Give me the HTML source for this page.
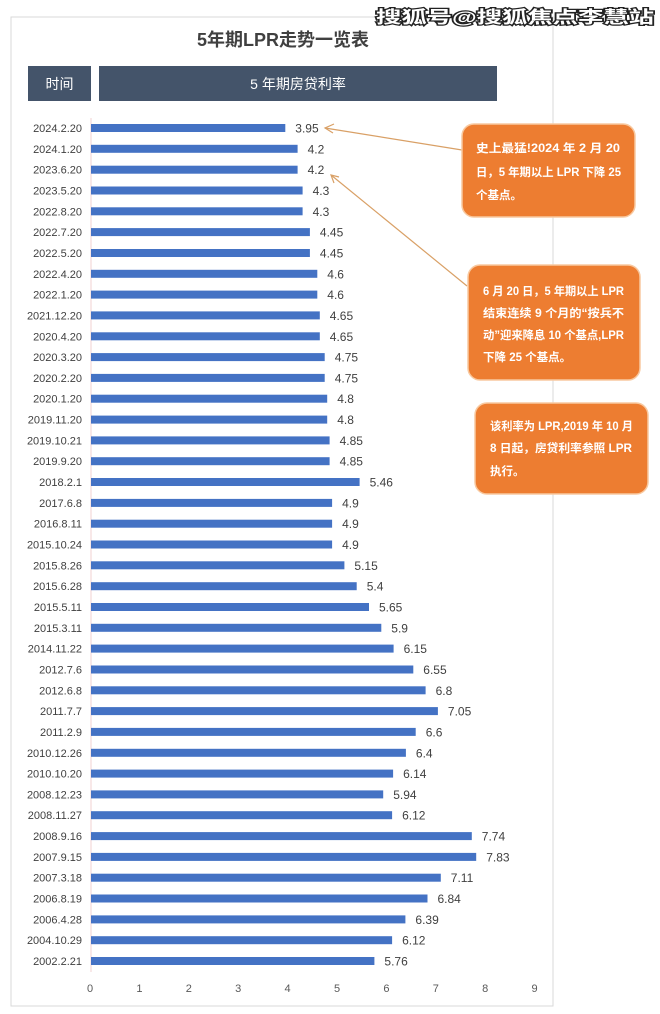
<!DOCTYPE html>
<html><head><meta charset="utf-8"><style>
html,body{margin:0;padding:0;background:#fff;}
svg{display:block;}
text{font-family:"Liberation Sans","Noto Sans CJK SC",sans-serif;}
.l{font-size:11px;fill:#404040;text-anchor:end;}
.v{font-size:12px;fill:#404040;}
.b{fill:#4472c4;}
.c{font-size:11.5px;fill:#fff;font-weight:bold;}
</style></head><body>
<svg width="660" height="1014" viewBox="0 0 660 1014" xmlns="http://www.w3.org/2000/svg">
<rect x="11" y="17" width="542" height="989" fill="#fff" stroke="#d9d9d9" stroke-width="1"/>
<text x="376" y="23" font-size="17" font-weight="bold" fill="#fff" stroke="#222" stroke-width="2.5" paint-order="stroke" textLength="278" lengthAdjust="spacingAndGlyphs">搜狐号@搜狐焦点李慧站</text>
<text x="283" y="46" text-anchor="middle" font-size="18" font-weight="bold" fill="#404040">5年期LPR走势一览表</text>
<rect x="28" y="66" width="63" height="35" fill="#44546a"/>
<text x="59.5" y="89" text-anchor="middle" font-size="14" fill="#fff">时间</text>
<rect x="99" y="66" width="398" height="35" fill="#44546a"/>
<text x="298" y="89" text-anchor="middle" font-size="14" fill="#fff">5 年期房贷利率</text>
<line x1="91" y1="118" x2="91" y2="972" stroke="#f0d0d0" stroke-width="1"/>
<g transform="translate(0,128)"><text class="l" x="82" y="4">2024.2.20</text><rect class="b" x="91" y="-4" width="194.3" height="8"/><text class="v" x="295.3" y="4.5">3.95</text></g>
<g transform="translate(0,148.8)"><text class="l" x="82" y="4">2024.1.20</text><rect class="b" x="91" y="-4" width="206.6" height="8"/><text class="v" x="307.6" y="4.5">4.2</text></g>
<g transform="translate(0,169.7)"><text class="l" x="82" y="4">2023.6.20</text><rect class="b" x="91" y="-4" width="206.6" height="8"/><text class="v" x="307.6" y="4.5">4.2</text></g>
<g transform="translate(0,190.5)"><text class="l" x="82" y="4">2023.5.20</text><rect class="b" x="91" y="-4" width="211.6" height="8"/><text class="v" x="312.6" y="4.5">4.3</text></g>
<g transform="translate(0,211.3)"><text class="l" x="82" y="4">2022.8.20</text><rect class="b" x="91" y="-4" width="211.6" height="8"/><text class="v" x="312.6" y="4.5">4.3</text></g>
<g transform="translate(0,232.1)"><text class="l" x="82" y="4">2022.7.20</text><rect class="b" x="91" y="-4" width="218.9" height="8"/><text class="v" x="319.9" y="4.5">4.45</text></g>
<g transform="translate(0,253)"><text class="l" x="82" y="4">2022.5.20</text><rect class="b" x="91" y="-4" width="218.9" height="8"/><text class="v" x="319.9" y="4.5">4.45</text></g>
<g transform="translate(0,273.8)"><text class="l" x="82" y="4">2022.4.20</text><rect class="b" x="91" y="-4" width="226.3" height="8"/><text class="v" x="327.3" y="4.5">4.6</text></g>
<g transform="translate(0,294.6)"><text class="l" x="82" y="4">2022.1.20</text><rect class="b" x="91" y="-4" width="226.3" height="8"/><text class="v" x="327.3" y="4.5">4.6</text></g>
<g transform="translate(0,315.4)"><text class="l" x="82" y="4">2021.12.20</text><rect class="b" x="91" y="-4" width="228.8" height="8"/><text class="v" x="329.8" y="4.5">4.65</text></g>
<g transform="translate(0,336.3)"><text class="l" x="82" y="4">2020.4.20</text><rect class="b" x="91" y="-4" width="228.8" height="8"/><text class="v" x="329.8" y="4.5">4.65</text></g>
<g transform="translate(0,357.1)"><text class="l" x="82" y="4">2020.3.20</text><rect class="b" x="91" y="-4" width="233.7" height="8"/><text class="v" x="334.7" y="4.5">4.75</text></g>
<g transform="translate(0,377.9)"><text class="l" x="82" y="4">2020.2.20</text><rect class="b" x="91" y="-4" width="233.7" height="8"/><text class="v" x="334.7" y="4.5">4.75</text></g>
<g transform="translate(0,398.7)"><text class="l" x="82" y="4">2020.1.20</text><rect class="b" x="91" y="-4" width="236.2" height="8"/><text class="v" x="337.2" y="4.5">4.8</text></g>
<g transform="translate(0,419.6)"><text class="l" x="82" y="4">2019.11.20</text><rect class="b" x="91" y="-4" width="236.2" height="8"/><text class="v" x="337.2" y="4.5">4.8</text></g>
<g transform="translate(0,440.4)"><text class="l" x="82" y="4">2019.10.21</text><rect class="b" x="91" y="-4" width="238.6" height="8"/><text class="v" x="339.6" y="4.5">4.85</text></g>
<g transform="translate(0,461.2)"><text class="l" x="82" y="4">2019.9.20</text><rect class="b" x="91" y="-4" width="238.6" height="8"/><text class="v" x="339.6" y="4.5">4.85</text></g>
<g transform="translate(0,482)"><text class="l" x="82" y="4">2018.2.1</text><rect class="b" x="91" y="-4" width="268.6" height="8"/><text class="v" x="369.6" y="4.5">5.46</text></g>
<g transform="translate(0,502.9)"><text class="l" x="82" y="4">2017.6.8</text><rect class="b" x="91" y="-4" width="241.1" height="8"/><text class="v" x="342.1" y="4.5">4.9</text></g>
<g transform="translate(0,523.7)"><text class="l" x="82" y="4">2016.8.11</text><rect class="b" x="91" y="-4" width="241.1" height="8"/><text class="v" x="342.1" y="4.5">4.9</text></g>
<g transform="translate(0,544.5)"><text class="l" x="82" y="4">2015.10.24</text><rect class="b" x="91" y="-4" width="241.1" height="8"/><text class="v" x="342.1" y="4.5">4.9</text></g>
<g transform="translate(0,565.3)"><text class="l" x="82" y="4">2015.8.26</text><rect class="b" x="91" y="-4" width="253.4" height="8"/><text class="v" x="354.4" y="4.5">5.15</text></g>
<g transform="translate(0,586.2)"><text class="l" x="82" y="4">2015.6.28</text><rect class="b" x="91" y="-4" width="265.7" height="8"/><text class="v" x="366.7" y="4.5">5.4</text></g>
<g transform="translate(0,607)"><text class="l" x="82" y="4">2015.5.11</text><rect class="b" x="91" y="-4" width="278" height="8"/><text class="v" x="379" y="4.5">5.65</text></g>
<g transform="translate(0,627.8)"><text class="l" x="82" y="4">2015.3.11</text><rect class="b" x="91" y="-4" width="290.3" height="8"/><text class="v" x="391.3" y="4.5">5.9</text></g>
<g transform="translate(0,648.6)"><text class="l" x="82" y="4">2014.11.22</text><rect class="b" x="91" y="-4" width="302.6" height="8"/><text class="v" x="403.6" y="4.5">6.15</text></g>
<g transform="translate(0,669.5)"><text class="l" x="82" y="4">2012.7.6</text><rect class="b" x="91" y="-4" width="322.3" height="8"/><text class="v" x="423.3" y="4.5">6.55</text></g>
<g transform="translate(0,690.3)"><text class="l" x="82" y="4">2012.6.8</text><rect class="b" x="91" y="-4" width="334.6" height="8"/><text class="v" x="435.6" y="4.5">6.8</text></g>
<g transform="translate(0,711.1)"><text class="l" x="82" y="4">2011.7.7</text><rect class="b" x="91" y="-4" width="346.9" height="8"/><text class="v" x="447.9" y="4.5">7.05</text></g>
<g transform="translate(0,731.9)"><text class="l" x="82" y="4">2011.2.9</text><rect class="b" x="91" y="-4" width="324.7" height="8"/><text class="v" x="425.7" y="4.5">6.6</text></g>
<g transform="translate(0,752.8)"><text class="l" x="82" y="4">2010.12.26</text><rect class="b" x="91" y="-4" width="314.9" height="8"/><text class="v" x="415.9" y="4.5">6.4</text></g>
<g transform="translate(0,773.6)"><text class="l" x="82" y="4">2010.10.20</text><rect class="b" x="91" y="-4" width="302.1" height="8"/><text class="v" x="403.1" y="4.5">6.14</text></g>
<g transform="translate(0,794.4)"><text class="l" x="82" y="4">2008.12.23</text><rect class="b" x="91" y="-4" width="292.2" height="8"/><text class="v" x="393.2" y="4.5">5.94</text></g>
<g transform="translate(0,815.2)"><text class="l" x="82" y="4">2008.11.27</text><rect class="b" x="91" y="-4" width="301.1" height="8"/><text class="v" x="402.1" y="4.5">6.12</text></g>
<g transform="translate(0,836.1)"><text class="l" x="82" y="4">2008.9.16</text><rect class="b" x="91" y="-4" width="380.8" height="8"/><text class="v" x="481.8" y="4.5">7.74</text></g>
<g transform="translate(0,856.9)"><text class="l" x="82" y="4">2007.9.15</text><rect class="b" x="91" y="-4" width="385.2" height="8"/><text class="v" x="486.2" y="4.5">7.83</text></g>
<g transform="translate(0,877.7)"><text class="l" x="82" y="4">2007.3.18</text><rect class="b" x="91" y="-4" width="349.8" height="8"/><text class="v" x="450.8" y="4.5">7.11</text></g>
<g transform="translate(0,898.5)"><text class="l" x="82" y="4">2006.8.19</text><rect class="b" x="91" y="-4" width="336.5" height="8"/><text class="v" x="437.5" y="4.5">6.84</text></g>
<g transform="translate(0,919.4)"><text class="l" x="82" y="4">2006.4.28</text><rect class="b" x="91" y="-4" width="314.4" height="8"/><text class="v" x="415.4" y="4.5">6.39</text></g>
<g transform="translate(0,940.2)"><text class="l" x="82" y="4">2004.10.29</text><rect class="b" x="91" y="-4" width="301.1" height="8"/><text class="v" x="402.1" y="4.5">6.12</text></g>
<g transform="translate(0,961)"><text class="l" x="82" y="4">2002.2.21</text><rect class="b" x="91" y="-4" width="283.4" height="8"/><text class="v" x="384.4" y="4.5">5.76</text></g>
<g font-size="11" fill="#595959" text-anchor="middle">
<text x="90" y="992">0</text><text x="139.4" y="992">1</text><text x="188.8" y="992">2</text><text x="238.2" y="992">3</text><text x="287.6" y="992">4</text><text x="337" y="992">5</text><text x="386.4" y="992">6</text><text x="435.8" y="992">7</text><text x="485.2" y="992">8</text><text x="534.6" y="992">9</text>
</g>
<g stroke="#d9a066" stroke-width="1.2" fill="none">
<line x1="462" y1="150" x2="325" y2="128"/><polyline points="334,124 325,128 333,133"/>
<line x1="467" y1="286" x2="331" y2="175"/><polyline points="334,183 331,175 339,177"/>
</g>
<rect x="462" y="124" width="173" height="93" rx="12" fill="#ed7d31" stroke="#f8c9a0" stroke-width="1.5"/>
<text class="c" x="476" y="152" textLength="144" lengthAdjust="spacingAndGlyphs">史上最猛!2024 年 2 月 20</text>
<text class="c" x="476" y="176" textLength="145" lengthAdjust="spacingAndGlyphs">日，5 年期以上 LPR 下降 25</text>
<text class="c" x="476" y="199">个基点。</text>
<rect x="468" y="265" width="172" height="115" rx="12" fill="#ed7d31" stroke="#f8c9a0" stroke-width="1.5"/>
<text class="c" x="483" y="295" textLength="141" lengthAdjust="spacingAndGlyphs">6 月 20 日，5 年期以上 LPR</text>
<text class="c" x="483" y="317" textLength="141" lengthAdjust="spacingAndGlyphs">结束连续 9 个月的“按兵不</text>
<text class="c" x="483" y="339" textLength="141" lengthAdjust="spacingAndGlyphs">动”迎来降息 10 个基点,LPR</text>
<text class="c" x="483" y="361">下降 25 个基点。</text>
<rect x="475" y="403" width="173" height="91" rx="12" fill="#ed7d31" stroke="#f8c9a0" stroke-width="1.5"/>
<text class="c" x="490" y="430" textLength="143" lengthAdjust="spacingAndGlyphs">该利率为 LPR,2019 年 10 月</text>
<text class="c" x="490" y="452" textLength="142" lengthAdjust="spacingAndGlyphs">8 日起，房贷利率参照 LPR</text>
<text class="c" x="490" y="475">执行。</text>
</svg>
</body></html>
